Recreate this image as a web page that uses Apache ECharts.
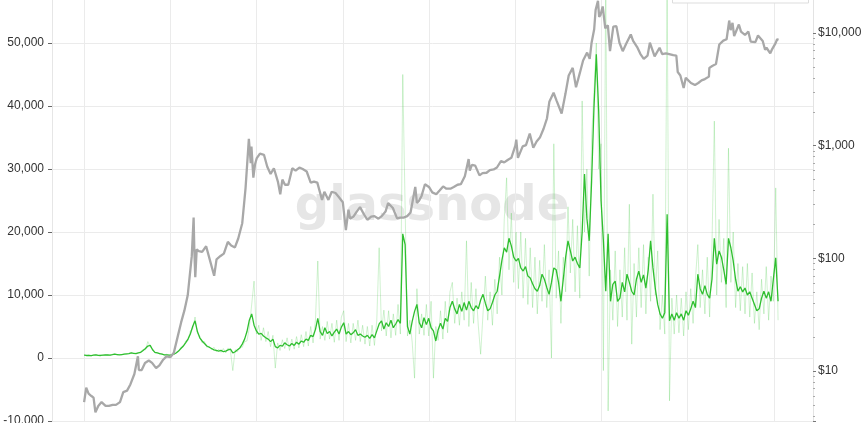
<!DOCTYPE html>
<html><head><meta charset="utf-8">
<script src="https://cdn.jsdelivr.net/npm/echarts@6/dist/echarts.min.js"></script>
<style>html,body{margin:0;padding:0;background:#fff;}#c{width:864px;height:423px;}</style>
</head><body><div id="c"></div>
<script>
// metric sampled every 10 days starting 2012-01-01
const metricStart = [2012, 0, 1];
const metricStepDays = 10;
const metricSmooth = [
450,400,420,380,450,500,420,400,450,480,500,450,520,600,550,500,550,600,650,700,800,750,700,800,
900,1200,1500,1900,2000,1300,900,800,700,600,500,
500,450,500,600,800,1100,1500,1900,2400,3000,3800,5000,5900,
4200,3200,2700,2300,1900,1700,1500,1300,1200,1100,1200,1000,1100,1300,1400,800,1000,1300,1600,2200,3000,4200,
6000,7000,5200,4300,3800,3900,3500,3200,3000,
2600,3000,1800,1600,2000,1900,2400,2100,1900,2300,2000,2500,2200,2700,2500,3000,2800,3600,3400,4500,
6300,4200,3600,4800,3900,4200,3500,4100,4600,3800,4900,5600,3800,4200,3700,4000,4500,3600,3800,3500,3300,3600,3100,3700,3200,4300,5400,5900,4600,5600,5000,6000,4800,5400,6100,5500,
19700,18000,5000,3800,5800,7400,8500,5600,4800,6400,5300,6300,4800,4300,2700,4500,5500,4600,6300,5800,8000,9000,7800,7000,8500,7400,
8800,7600,9000,8000,7500,8300,7800,9200,10100,8700,7500,7800,8800,10000,10600,13000,15500,17500,16800,19000,
17800,16000,15400,15800,14300,13800,14500,13000,12700,11800,11000,10600,11500,13300,12500,11200,10100,12000,14300,14000,12000,9000,12500,16000,18600,17000,15400,16000,15000,14300,20000,29200,22200,18600,28000,39700,48200,39200,25000,18600,
10600,19700,9000,11700,12200,9000,9500,12000,10500,13300,12000,10600,10000,12500,13800,12000,13200,11100,14000,18600,14300,11000,8500,7000,6300,7200,
22800,5900,7000,6000,7200,6300,7000,6000,7500,6800,7800,9000,8000,13300,
11000,10100,11500,10100,9500,12500,19000,14900,17000,16000,14000,11700,19000,17500,15400,12500,10600,11300,10500,11100,10000,10500,9500,8500,7500,7800,9500,10600,9500,10500,9000,12500,15900,9000
];
const metricRaw = [
500,350,480,320,500,560,380,450,420,520,460,410,580,650,500,560,520,650,600,760,850,700,760,850,
1000,1400,1300,2600,1800,1500,800,900,650,700,450,
600,400,550,550,900,1000,1700,1700,2700,2700,4300,4600,6500,
3900,3500,2400,2600,1700,1900,1300,1700,1000,1400,900,1500,800,1600,1100,-2000,1300,1000,1800,1700,2600,2700,
4800,8500,12200,3800,5200,2800,4800,2600,4200,
1800,3600,-1600,2400,1200,2900,1500,3200,1200,3000,1400,3400,1600,3700,1800,4200,1900,5000,2400,6000,
15400,3000,5000,2800,5800,3000,5500,2500,6000,2800,6500,7500,2600,5500,2400,5500,2800,6000,2600,5200,2200,5000,1900,5200,2000,6000,17500,4300,7600,3500,7500,3200,7000,3600,8500,3800,
45000,24000,3500,6000,2500,-3200,11000,3800,7000,3600,8500,3500,9000,-3200,5000,2800,7500,3000,9000,4000,10500,12000,5500,9500,5200,10500,
6000,18600,5000,12000,5500,11000,5200,600,7000,13000,6000,10500,5200,12500,7000,16000,10000,22000,28600,14000,
23000,12000,20000,11000,20000,9500,19000,8500,17500,8000,16000,7000,15500,9000,18000,8000,14000,0,34000,9500,17000,5500,16000,10500,24000,13500,22000,10500,21000,9500,40800,20000,30000,13000,35000,42000,50000,30000,34000,-2000,
62000,-8400,14000,6000,17000,5000,14000,6500,17500,6000,24400,2200,15000,6500,17500,8000,18000,7000,16000,9000,26000,10000,17000,4500,10000,3800,
60000,-6800,9500,3800,10000,4000,9500,3500,10500,4500,11000,5500,12500,18000,
8000,14000,7000,16000,6500,18000,37600,10000,22000,12000,19000,8000,33300,12000,20000,8000,15000,7500,14500,7000,15000,6500,13500,5500,10500,4500,12500,7000,14500,6000,13000,9000,27000,6000
];
const priceDates = [
'2012-01-01','2012-01-10','2012-01-20','2012-02-01','2012-02-10','2012-02-18','2012-03-01','2012-03-15','2012-04-01','2012-04-15','2012-05-01','2012-05-15','2012-06-01','2012-06-15','2012-07-01','2012-07-15','2012-08-01','2012-08-16','2012-08-20','2012-09-01','2012-09-15','2012-10-01','2012-10-15','2012-11-01','2012-11-15','2012-12-01','2012-12-15',
'2013-01-01','2013-01-15','2013-02-01','2013-02-15','2013-03-01','2013-03-15','2013-04-01','2013-04-09','2013-04-12','2013-04-16','2013-04-22','2013-05-01','2013-05-15','2013-06-01','2013-06-15','2013-07-05','2013-07-15','2013-08-01','2013-08-15','2013-09-01','2013-09-15','2013-10-01','2013-10-15','2013-11-01','2013-11-15','2013-11-29','2013-12-07','2013-12-10','2013-12-18','2013-12-25',
'2014-01-01','2014-01-15','2014-02-01','2014-02-15','2014-03-01','2014-03-15','2014-04-01','2014-04-11','2014-04-20','2014-05-01','2014-05-15','2014-06-01','2014-06-15','2014-07-01','2014-07-15','2014-08-01','2014-08-18','2014-09-01','2014-09-15','2014-10-05','2014-10-15','2014-11-01','2014-11-15','2014-12-01','2014-12-15',
'2015-01-01','2015-01-14','2015-01-25','2015-02-01','2015-02-15','2015-03-01','2015-03-15','2015-04-01','2015-04-15','2015-05-01','2015-05-15','2015-06-01','2015-06-15','2015-07-01','2015-07-12','2015-08-01','2015-08-19','2015-09-01','2015-09-15','2015-10-01','2015-10-15','2015-11-04','2015-11-11','2015-11-20','2015-12-01','2015-12-15',
'2016-01-01','2016-01-15','2016-02-01','2016-02-15','2016-03-01','2016-03-15','2016-04-01','2016-04-15','2016-05-01','2016-05-15','2016-06-01','2016-06-17','2016-06-22','2016-07-01','2016-07-15','2016-08-02','2016-08-15','2016-09-01','2016-09-15','2016-10-01','2016-10-15','2016-11-01','2016-11-15','2016-12-01','2016-12-15',
'2017-01-01','2017-01-05','2017-01-12','2017-02-01','2017-02-15','2017-03-03','2017-03-18','2017-04-01','2017-04-15','2017-05-01','2017-05-15','2017-05-25','2017-06-01','2017-06-12','2017-06-25','2017-07-01','2017-07-16','2017-08-01','2017-08-15','2017-09-01','2017-09-15','2017-10-01','2017-10-15','2017-11-01','2017-11-12','2017-11-20','2017-12-01','2017-12-07','2017-12-17','2017-12-22','2017-12-28',
'2018-01-06','2018-01-17','2018-01-28','2018-02-06','2018-02-20','2018-03-05','2018-03-18','2018-04-01','2018-04-15','2018-05-05','2018-05-15','2018-06-01','2018-06-15','2018-06-29','2018-07-15','2018-07-25','2018-08-14','2018-09-04','2018-09-15','2018-10-01','2018-10-15','2018-11-01','2018-11-14','2018-11-20','2018-12-01','2018-12-15','2018-12-24',
'2019-01-01','2019-01-15','2019-02-01','2019-02-15','2019-03-01','2019-03-15','2019-04-01','2019-04-03','2019-04-15','2019-05-01','2019-05-15','2019-06-01','2019-06-15','2019-06-26','2019-07-02','2019-07-10','2019-07-17','2019-08-06','2019-08-15','2019-09-01','2019-09-15','2019-09-25','2019-10-15','2019-10-26','2019-11-15','2019-11-25','2019-12-01','2019-12-17','2019-12-25',
'2020-01-01','2020-01-08','2020-01-15','2020-01-21'
];
const priceValues = [
5.3,7.1,6.3,6.0,5.8,4.3,4.9,5.3,4.9,4.9,5.0,5.0,5.3,6.5,6.7,7.6,9.4,13.5,10.2,10.2,11.8,12.4,11.8,10.6,11.2,12.6,13.5,
13.3,14.5,20.4,27,34.5,47,104,230,118,68,120,116,114,128,100,70,98,105,110,140,130,125,150,205,420,1150,700,980,520,680,
770,850,830,650,560,630,480,370,500,450,450,630,600,640,620,590,470,480,470,330,390,330,390,380,350,
315,178,270,225,235,260,285,245,220,235,237,225,237,260,310,280,226,230,230,237,255,430,310,325,360,455,
430,385,370,400,435,415,415,430,450,455,535,760,600,675,665,545,570,575,608,615,640,730,710,750,780,
1000,1130,780,985,1010,1280,960,1090,1180,1420,1750,2450,2400,2950,2500,2500,1930,2870,4200,4900,3300,4400,5700,6700,5900,8200,10800,16000,19300,13900,14500,
17200,11000,11700,6900,11400,11500,8200,6900,8000,9700,8500,7500,6500,5900,6300,8200,6200,7400,6500,6600,6500,6350,6300,4500,4200,3250,4000,
3850,3600,3450,3600,3800,3900,4100,4900,5100,5300,7900,8550,8800,12900,10600,12300,9400,11900,10300,9600,10300,8400,8300,9500,8500,7100,7400,6600,7200,
7200,8100,8800,8700
];
const leftMin = -10000, leftMax = 60000, leftStep = 10000;

const metricTime = metricSmooth.map((_, i) =>
  new Date(metricStart[0], metricStart[1], metricStart[2] + i * metricStepDays).getTime());
const smoothData = metricSmooth.map((v, i) => [metricTime[i], v]);
const rawData = metricRaw.map((v, i) => [metricTime[i], v]);
const priceData = priceDates.map((d, i) => {
  const p = d.split('-').map(Number);
  return [new Date(p[0], p[1] - 1, p[2]).getTime(), priceValues[i]];
});

const chart = echarts.init(document.getElementById('c'), null, {renderer: 'canvas'});
const FONT = 'Liberation Sans, Arial, sans-serif';
chart.setOption({
  animation: false,
  backgroundColor: '#fff',
  grid: {left: 52, right: 51, top: -20, bottom: 2, containLabel: false, outerBoundsMode: 'none'},
  graphic: [
    {type: 'text', z: 0, left: 'center', top: 184,
     style: {text: 'glassnode', fill: '#e6e6e6', font: 'bold 48px "DejaVu Sans"'}},
    {type: 'rect', z: 100, shape: {x: 672.5, y: -10, width: 136, height: 13},
     style: {fill: '#fff', stroke: '#dddddd', lineWidth: 1}}
  ],
  xAxis: {
    type: 'time',
    min: new Date(2011, 7, 18).getTime(),
    max: new Date(2020, 5, 15).getTime(),
    splitNumber: 9,
    minInterval: 365 * 86400000,
    maxInterval: 366 * 86400000,
    axisLine: {show: true, lineStyle: {color: '#ebebeb'}},
    axisTick: {show: false},
    axisLabel: {show: false},
    splitLine: {show: true, lineStyle: {color: '#ebebeb', width: 1}}
  },
  yAxis: [
    {
      type: 'value', position: 'left', min: leftMin, max: leftMax, interval: leftStep,
      axisLine: {show: true, lineStyle: {color: '#e6e6e6'}},
      axisTick: {show: true, length: 4, lineStyle: {color: '#666'}},
      axisLabel: {color: '#333', fontSize: 12, fontFamily: FONT, margin: 8,
        formatter: v => v.toLocaleString('en-US')},
      splitLine: {show: true, lineStyle: {color: '#ebebeb', width: 1}}
    },
    {
      type: 'log', logBase: 10, position: 'right', min: 3.6, max: 29540,
      axisLine: {show: true, lineStyle: {color: '#e3e3e3'}},
      axisTick: {show: true, length: 3, lineStyle: {color: '#777'}},
      minorTick: {show: true, length: 2, splitNumber: 9, lineStyle: {color: '#aaa'}},
      axisLabel: {color: '#333', fontSize: 12, fontFamily: FONT, margin: 5,
        showMinLabel: false, showMaxLabel: false,
        formatter: v => '$' + Math.round(v).toLocaleString('en-US')},
      splitLine: {show: false}
    }
  ],
  series: [
    {type: 'line', name: 'raw', yAxisIndex: 0, data: rawData, showSymbol: false, z: 2,
     lineStyle: {color: 'rgba(70,205,70,0.25)', width: 1}},
    {type: 'line', name: 'smooth', yAxisIndex: 0, data: smoothData, showSymbol: false, z: 3,
     lineStyle: {color: '#2fbf2f', width: 1.3}},
    {type: 'line', name: 'price', yAxisIndex: 1, data: priceData, showSymbol: false, z: 4,
     lineStyle: {color: '#a8a8a8', width: 2.3}}
  ]
});
</script>
</body></html>
